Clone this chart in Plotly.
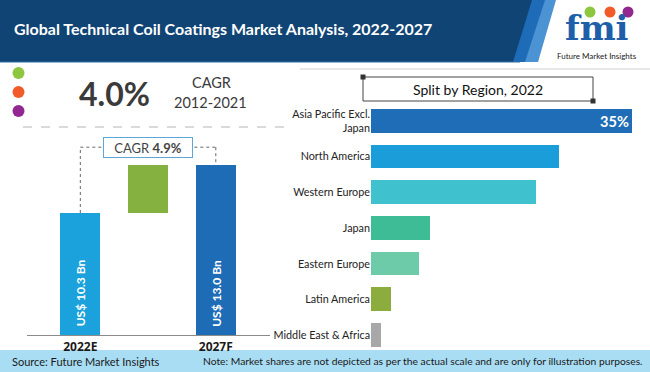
import plotly.graph_objects as go

# ---------------- data ----------------
years = ["2022E", "Increment", "2027F"]
year_tick_labels = ["2022E", "2027F"]
market_values = [10.3, 13.0]            # US$ Bn
cagr_hist = "4.0%"
cagr_hist_period = "2012-2021"
cagr_forecast = "4.9%"

regions = ["Asia Pacific Excl.<br>Japan", "North America", "Western Europe",
           "Japan", "Eastern Europe", "Latin America", "Middle East & Africa"]
region_share = [35, 25.2, 22.1, 7.9, 6.4, 2.7, 1.4]
region_text = ["35%", "", "", "", "", "", ""]
region_colors = ["#1F6DB6", "#1A9DD8", "#3FC2CD", "#3DBC95", "#6DCBAA", "#8CAC3D", "#A8A8A8"]

W, H = 650, 372
def px(x): return x / W
def py(y): return 1 - y / H

fig = go.Figure()

# ---------- left waterfall-like chart ----------
incr = market_values[1] - market_values[0]
fig.add_trace(go.Bar(
    x=years, y=[market_values[0], incr, market_values[1]],
    base=[0, market_values[0], 0],
    marker=dict(color=["#1BA1DB", "#84B13F", "#1E6CB6"], line=dict(width=0)),
    width=0.59, xaxis="x", yaxis="y", hoverinfo="skip", showlegend=False))

# ---------- right horizontal bars ----------
fig.add_trace(go.Bar(
    y=regions, x=region_share, orientation="h",
    marker=dict(color=region_colors, line=dict(width=0)),
    text=region_text, textposition="inside", insidetextanchor="end",
    textfont=dict(family="Lato", size=17, color="white", weight="bold"),
    width=0.67, xaxis="x2", yaxis="y2", hoverinfo="skip", showlegend=False))

ymin = 3.4375
ymax = ymin + 195 / 17.78
bracket_top = 14.0

fig.update_layout(
    width=W, height=H, margin=dict(l=0, r=0, t=0, b=0),
    paper_bgcolor="white", plot_bgcolor="rgba(0,0,0,0)",
    font=dict(family="Lato", color="#222"),
    bargap=0,
    xaxis=dict(domain=[px(27), px(270)], type="category", categoryarray=years,
               range=[-0.787, 2.8], showgrid=False, zeroline=False,
               showline=True, linecolor="#8a8a8a", linewidth=1.2,
               tickmode="array", tickvals=year_tick_labels,
               ticktext=["<b>%s</b>" % t for t in year_tick_labels],
               tickfont=dict(family="Open Sans", size=12, color="#1a1a1a"), ticks=""),
    yaxis=dict(domain=[py(335), py(140)], range=[ymin, ymax], visible=False),
    xaxis2=dict(domain=[px(371), px(640)], range=[0, 269 / 7.457], visible=False, anchor="y2"),
    yaxis2=dict(domain=[py(352.9), py(103.2)], type="category", categoryarray=regions,
                range=[6.5, -0.5], anchor="x2", showgrid=False, zeroline=False, showline=False,
                ticks="", tickfont=dict(family="Lato", size=10.8, color="#222")),
)

shapes = []
# header
shapes.append(dict(type="rect", xref="paper", yref="paper", x0=0, x1=1, y0=py(62), y1=1,
                   fillcolor="#104474", line=dict(width=0), layer="below"))
shapes.append(dict(type="path", xref="paper", yref="paper",
                   path="M %f,%f L %f,%f L %f,%f L %f,%f Z" % (px(513), py(62), px(532), py(0), px(560), py(0), px(538), py(62)),
                   fillcolor="#1E6BB8", line=dict(width=0), layer="below"))
shapes.append(dict(type="path", xref="paper", yref="paper",
                   path="M %f,%f L %f,%f L %f,%f L %f,%f Z" % (px(525), py(62), px(545), py(0), px(560), py(0), px(538), py(62)),
                   fillcolor="#4C93D3", line=dict(width=0), layer="below"))
shapes.append(dict(type="path", xref="paper", yref="paper",
                   path="M %f,%f L %f,%f L %f,%f L %f,%f Z" % (px(538), py(62), px(556), py(0), px(650), py(0), px(650), py(62)),
                   fillcolor="white", line=dict(width=0), layer="below"))
shapes.append(dict(type="line", xref="paper", yref="paper", x0=0, x1=px(520), y0=py(62), y1=py(62),
                   line=dict(color="#2F6EA8", width=1), layer="below"))
# thin grey rule under header on the right
shapes.append(dict(type="line", xref="paper", yref="paper", x0=px(300), x1=1, y0=py(69), y1=py(69),
                   line=dict(color="#d0d0d0", width=1), layer="below"))
# footer
shapes.append(dict(type="rect", xref="paper", yref="paper", x0=0, x1=1, y0=0, y1=py(350),
                   fillcolor="#A9DDF3", line=dict(width=0), layer="below"))
# dots
for yy, c in [(73, "#8DC63F"), (92, "#F15A29"), (111, "#92278F")]:
    shapes.append(dict(type="circle", xref="paper", yref="paper",
                       x0=px(12.5), x1=px(24.5), y0=py(yy + 6), y1=py(yy - 6),
                       fillcolor=c, line=dict(width=0)))
# dashed separator
shapes.append(dict(type="line", xref="paper", yref="paper", x0=px(23), x1=px(290), y0=py(127), y1=py(127),
                   line=dict(color="#b5b5b5", width=1, dash="dash")))
# dotted bracket
bk = dict(color="#666", width=1, dash="dot")
shapes.append(dict(type="line", xref="x", yref="y", x0="2022E", x1="2022E",
                   y0=market_values[0], y1=bracket_top, line=bk))
shapes.append(dict(type="line", xref="x", yref="y", x0="2022E", x1="2027F",
                   y0=bracket_top, y1=bracket_top, line=bk))
shapes.append(dict(type="line", xref="x", yref="y", x0="2027F", x1="2027F",
                   y0=bracket_top, y1=market_values[1], line=bk))
# split box
shapes.append(dict(type="rect", xref="paper", yref="paper", x0=px(363), x1=px(593), y0=py(101), y1=py(77),
                   line=dict(color="#444", width=1), fillcolor="white"))
for cx, cy in [(363, 77), (593, 101)]:
    shapes.append(dict(type="rect", xref="paper", yref="paper", x0=px(cx - 2.5), x1=px(cx + 2.5),
                       y0=py(cy + 2.5), y1=py(cy - 2.5), fillcolor="#333", line=dict(width=0)))
# logo circles
for cx, c in [(590, "#8DC63F"), (610, "#F15A29"), (628, "#92278F")]:
    shapes.append(dict(type="circle", xref="paper", yref="paper",
                       x0=px(cx - 5.5), x1=px(cx + 5.5), y0=py(12 + 5.5), y1=py(12 - 5.5),
                       fillcolor=c, line=dict(width=0)))
fig.update_layout(shapes=shapes)

ann = []
def A(x, y, text, size, color="#222", family="Lato", xanchor="center", **kw):
    ann.append(dict(xref="paper", yref="paper", x=px(x), y=py(y), text=text, showarrow=False,
                    xanchor=xanchor, yanchor="middle", font=dict(family=family, size=size, color=color), **kw))

A(12, 28, "<b>Global Technical Coil Coatings Market Analysis, 2022-2027</b>", 16, "white", xanchor="left")
A(114, 93, "<b>%s</b>" % cagr_hist, 32, "#3a3a3a", family="Lato")
A(211, 82, "CAGR", 14.5, "#3a3a3a", family="Lato")
A(210, 103, cagr_hist_period, 14.5, "#3a3a3a", family="Lato")
A(478, 89, "Split by Region, 2022", 14, "#111", family="Lato")
A(10, 361, "Source: Future Market Insights", 11, "#1a1a1a", family="Lato", xanchor="left")
A(645, 361, "Note: Market shares are not depicted as per the actual scale and are only for illustration purposes.",
  10.3, "#1a1a1a", family="Lato", xanchor="right")
# logo text
A(597, 28, "<b>fmi</b>", 34, "#1F5FAA", family="DejaVu Serif")
A(597, 56, "Future Market Insights", 8, "#222", family="Lato")

# CAGR box (data coords)
ann.append(dict(xref="x", yref="y", x="Increment", y=bracket_top, text="CAGR <b>%s</b>" % cagr_forecast,
                showarrow=False, font=dict(family="Lato", size=13, color="#444"),
                bgcolor="white", bordercolor="#5CA6DA", borderwidth=1, borderpad=2, width=84, height=15))
# rotated value labels inside bars
for cat, v in [("2022E", market_values[0]), ("2027F", market_values[1])]:
    ann.append(dict(xref="x", yref="y", x=cat, y=ymin + 42 / 17.78, text="<b>US$ %.1f Bn</b>" % v,
                    textangle=-90, showarrow=False, font=dict(family="Lato", size=12, color="white")))
fig.update_layout(annotations=ann)

fig.write_html("out.html", config={"displayModeBar": False},
               post_script="document.body.style.margin='0';document.body.style.overflow='hidden';")
